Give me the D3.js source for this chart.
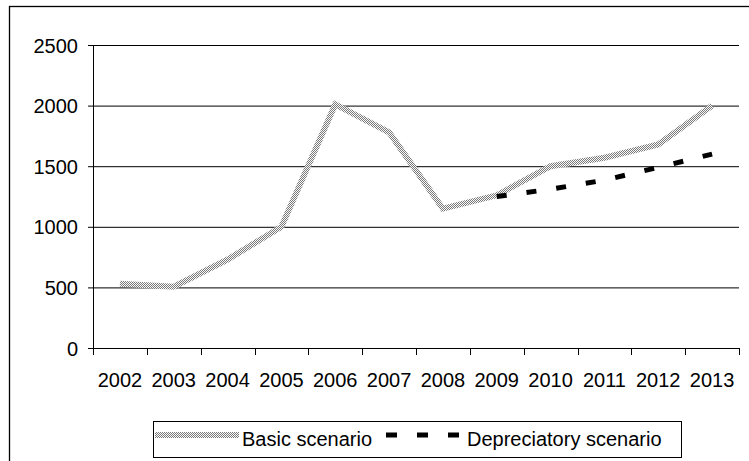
<!DOCTYPE html>
<html>
<head>
<meta charset="utf-8">
<script src="https://cdn.jsdelivr.net/npm/d3@7/dist/d3.min.js"></script>
<style>
  html, body { margin: 0; padding: 0; background: #fff; }
  svg { display: block; }
  text { font-family: "Liberation Sans", Arial, sans-serif; fill: #000; }
</style>
</head>
<body>
<svg id="chart" width="749" height="461"></svg>
<script>
// Forecast series by year
const years = ["2002","2003","2004","2005","2006","2007","2008","2009","2010","2011","2012","2013"];
const basicValues = [530, 505, 730, 1000, 2010, 1780, 1150, 1260, 1500, 1570, 1680, 2000];
const depreciatoryYears = ["2009","2010","2011","2012","2013"];
const depreciatoryValues = [1250, 1310, 1385, 1490, 1600];
const yTicks = [0, 500, 1000, 1500, 2000, 2500];
const seriesNames = ["Basic scenario", "Depreciatory scenario"];

const svg = d3.select("#chart");
const plotLeft = 93, plotRight = 739, plotTop = 45, plotBottom = 348;
const fontSize = 20;

// Stippled fill used for the basic scenario stroke
const defs = svg.append("defs");
const pat = defs.append("pattern")
  .attr("id", "stipple")
  .attr("patternUnits", "userSpaceOnUse")
  .attr("width", 2).attr("height", 2);
pat.append("rect").attr("width", 2).attr("height", 2).attr("fill", "#fafafa");
pat.append("rect").attr("x", 0).attr("y", 0).attr("width", 1).attr("height", 1).attr("fill", "#7a7a7a");
pat.append("rect").attr("x", 1).attr("y", 1).attr("width", 1).attr("height", 1).attr("fill", "#7a7a7a");

// Outer chart frame
svg.append("rect")
  .attr("x", 9.5).attr("y", 6.5)
  .attr("width", 800).attr("height", 500)
  .attr("fill", "none").attr("stroke", "#000").attr("stroke-width", 1.3);

const x = d3.scaleBand().domain(years).range([plotLeft, plotRight]).paddingInner(0).paddingOuter(0);
const y = d3.scaleLinear().domain([0, 2500]).range([plotBottom, plotTop]);
const cx = d => x(d) + x.bandwidth() / 2;

// Horizontal gridlines with short left ticks
const yAxis = svg.append("g")
  .attr("transform", `translate(${plotLeft},0)`)
  .call(d3.axisLeft(y).tickValues(yTicks).tickSize(5).tickPadding(10).tickFormat(d3.format("d")));
yAxis.select(".domain").remove();
yAxis.selectAll(".tick line").attr("stroke", "#000").attr("x2", plotRight - plotLeft).attr("x1", -5);
yAxis.selectAll(".tick text").attr("font-size", fontSize).attr("x", -15).attr("dy", "0.35em");

// Vertical axis line
svg.append("line")
  .attr("x1", plotLeft + 0.5).attr("x2", plotLeft + 0.5)
  .attr("y1", y(2500)).attr("y2", y(0))
  .attr("stroke", "#000");

// Category axis with ticks at band edges
const xAxis = svg.append("g")
  .attr("transform", `translate(0,${plotBottom})`)
  .call(d3.axisBottom(x).tickSize(0).tickPadding(0));
xAxis.select(".domain").attr("stroke", "#000");
xAxis.selectAll(".tick text").attr("font-size", fontSize).attr("y", 24.5).attr("dy", "0.71em");
const edges = years.map(d => x(d)).concat([x(years[years.length - 1]) + x.bandwidth()]);
svg.append("g").selectAll("line").data(edges).join("line")
  .attr("x1", d => Math.round(d) + 0.5).attr("x2", d => Math.round(d) + 0.5)
  .attr("y1", plotBottom).attr("y2", plotBottom + 7)
  .attr("stroke", "#000");

// Series lines
const line = d3.line().x(d => cx(d[0])).y(d => y(d[1]));
const basicData = years.map((d, i) => [d, basicValues[i]]);
const deprData = depreciatoryYears.map((d, i) => [d, depreciatoryValues[i]]);

svg.append("path")
  .datum(basicData)
  .attr("d", line)
  .attr("fill", "none")
  .attr("stroke", "url(#stipple)")
  .attr("stroke-width", 6)
  .attr("stroke-linejoin", "miter");

svg.append("path")
  .datum(deprData)
  .attr("d", line)
  .attr("fill", "none")
  .attr("stroke", "#000")
  .attr("stroke-width", 5)
  .attr("stroke-dasharray", "10,20");

// Legend
const legend = svg.append("g");
legend.append("rect")
  .attr("x", 153.5).attr("y", 421.5).attr("width", 528).attr("height", 36)
  .attr("fill", "#fff").attr("stroke", "#000").attr("stroke-width", 1);
legend.append("line")
  .attr("x1", 155).attr("x2", 239).attr("y1", 435).attr("y2", 435)
  .attr("stroke", "url(#stipple)").attr("stroke-width", 6);
legend.append("text").attr("x", 242).attr("y", 446).attr("font-size", fontSize).text(seriesNames[0]);
legend.append("line")
  .attr("x1", 386).attr("x2", 459).attr("y1", 435).attr("y2", 435)
  .attr("stroke", "#000").attr("stroke-width", 5).attr("stroke-dasharray", "11,20");
legend.append("text").attr("x", 467).attr("y", 446).attr("font-size", fontSize).text(seriesNames[1]);
</script>
</body>
</html>
